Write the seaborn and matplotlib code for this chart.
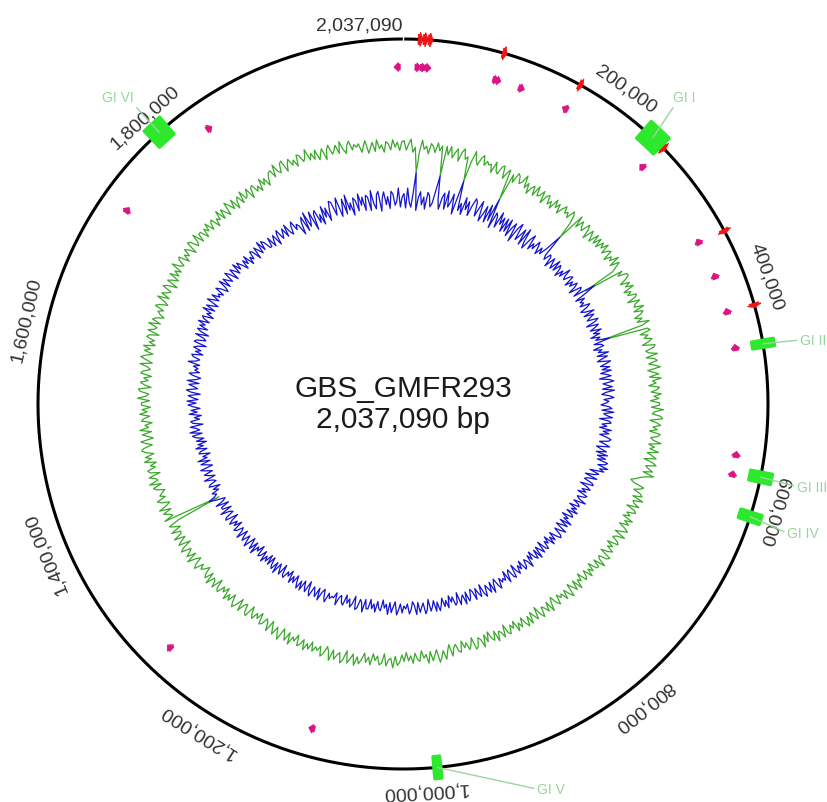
import numpy as np
import matplotlib
matplotlib.use("Agg")
import matplotlib.pyplot as plt
import seaborn as sns

# ---------------------------------------------------------------- data
genome_name = "GBS_GMFR293"
genome_length = 2037090

tick_positions = [200000, 400000, 600000, 800000, 1000000,
                  1200000, 1400000, 1600000, 1800000]
tick_labels = ["200,000", "400,000", "600,000", "800,000", "1,000,000",
               "1,200,000", "1,400,000", "1,600,000", "1,800,000"]
origin_label = "2,037,090"

# genomic islands
gi_names = ["GI I", "GI II", "GI III", "GI IV", "GI V", "GI VI"]
gi_starts = [233800, 452400, 570300, 607000, 985000, 1791100]
gi_ends = [254800, 458600, 579200, 615000, 991000, 1808900]

# rRNA operons (backbone ring)
rrna_starts = [13500, 18000, 22500, 89500, 163000, 256000, 347500, 418500]
rrna_ends = [18000, 22500, 26800, 93500, 167000, 260000, 351500, 422500]
rrna_strands = [1, 1, 1, 1, 1, 1, 1, 1]

# tRNA genes (inner feature ring)
trna_starts = [2028400, 11500, 16500, 21000, 87500, 90500, 113500, 159700,
               252800, 343500, 380000, 416000, 451600, 555000, 574000,
               1104500, 1263500, 1723600, 1835500]
trna_ends = [2034400, 17500, 22500, 27000, 92500, 95500, 119500, 165700,
             258800, 349500, 386000, 422000, 457600, 561000, 580000,
             1110500, 1269500, 1729600, 1841500]
trna_strands = [-1, 1, 1, 1, 1, 1, 1, -1, -1, -1, -1, -1, -1, -1, -1,
                1, 1, 1, 1]

# GC content (%) in 720 equal windows, starting at the origin
gc_content = [
    36.9, 35.1, 36.3, 37.3, 34.7, 35.7, 30.7, 34.9, 37.2, 35.4,
    36.1, 34.6, 36.7, 36.2, 35.0, 37.0, 35.5, 36.5, 30.5, 36.6,
    34.9, 36.7, 34.5, 35.6, 36.5, 34.1, 36.0, 36.8, 34.8, 35.4,
    30.5, 34.6, 36.9, 35.2, 34.3, 35.9, 36.6, 34.7, 35.7, 35.1,
    35.4, 33.8, 36.2, 34.5, 34.0, 35.7, 36.1, 33.6, 35.0, 35.8,
    29.5, 35.2, 33.7, 35.9, 35.5, 34.1, 34.7, 36.3, 33.9, 35.1,
    33.1, 34.6, 35.2, 33.4, 35.7, 33.8, 34.2, 35.4, 33.0, 34.9,
    35.3, 33.6, 34.5, 33.2, 35.5, 34.0, 35.1, 33.3, 34.7, 35.6,
    34.3, 34.9, 33.9, 35.8, 35.1, 33.5, 30.1, 36.1, 33.8, 35.6,
    34.6, 34.0, 36.0, 35.2, 33.3, 35.7, 34.8, 33.7, 35.9, 34.1,
    35.8, 34.0, 35.7, 34.7, 36.2, 34.2, 35.4, 35.9, 33.8, 35.3,
    34.6, 36.4, 34.1, 36.0, 34.9, 33.9, 27.3, 35.5, 34.3, 36.1,
    36.2, 35.3, 33.9, 35.7, 34.6, 36.1, 33.8, 35.1, 34.2, 35.9,
    35.5, 33.6, 36.0, 34.8, 34.4, 36.3, 34.0, 35.8, 35.2, 33.7,
    35.1, 33.9, 36.3, 34.7, 26.3, 35.5, 35.9, 33.7, 35.2, 34.3,
    35.8, 35.0, 33.6, 36.1, 35.7, 34.0, 34.5, 36.2, 33.8, 35.4,
    35.9, 34.1, 35.3, 36.3, 33.7, 34.7, 35.8, 33.9, 36.2, 34.4,
    35.1, 33.6, 35.7, 35.2, 34.0, 36.0, 34.5, 35.5, 33.8, 35.6,
    35.6, 34.0, 36.4, 34.7, 34.2, 35.9, 36.3, 33.8, 35.2, 36.0,
    34.5, 35.4, 33.9, 36.1, 35.7, 34.3, 34.9, 36.5, 34.1, 35.3,
    34.5, 36.3, 34.1, 35.2, 36.1, 33.7, 35.6, 36.4, 34.4, 35.0,
    36.0, 34.2, 36.5, 34.8, 33.9, 33.2, 32.3, 33.0, 35.3, 34.7,
    33.5, 35.0, 35.6, 33.8, 36.1, 34.2, 34.6, 35.8, 33.4, 35.3,
    35.7, 34.0, 34.9, 33.6, 35.9, 34.4, 35.5, 33.7, 35.1, 36.0,
    34.9, 33.7, 36.1, 34.5, 33.9, 35.3, 35.7, 33.5, 35.0, 34.1,
    35.6, 34.8, 33.4, 35.9, 35.5, 33.8, 34.3, 36.0, 33.6, 35.2,
    35.0, 33.2, 34.9, 33.9, 35.4, 33.4, 34.6, 35.1, 33.0, 34.5,
    33.8, 35.6, 33.3, 35.2, 34.1, 33.1, 35.7, 34.7, 33.5, 35.3,
    33.7, 34.3, 33.3, 35.2, 34.5, 32.9, 33.8, 35.5, 33.2, 35.0,
    34.0, 33.4, 35.4, 34.6, 32.7, 35.1, 34.2, 33.1, 35.3, 33.5,
    35.4, 34.5, 33.1, 34.9, 33.8, 35.3, 33.0, 34.3, 33.4, 35.1,
    34.7, 32.8, 35.2, 34.0, 33.6, 35.5, 33.2, 35.0, 34.4, 32.9,
    34.8, 33.2, 35.6, 33.9, 33.4, 35.1, 35.5, 33.0, 34.4, 35.2,
    33.7, 34.6, 33.1, 35.3, 34.9, 33.5, 34.1, 35.7, 33.3, 34.5,
    36.1, 34.3, 35.5, 36.5, 33.9, 34.9, 36.0, 34.1, 36.4, 34.6,
    35.3, 33.8, 35.9, 35.4, 34.2, 36.2, 34.7, 35.7, 34.0, 35.8,
    34.5, 36.0, 36.6, 34.8, 37.1, 35.2, 35.6, 36.8, 34.4, 36.3,
    36.7, 35.0, 35.9, 34.6, 36.9, 35.4, 36.5, 34.7, 36.1, 37.0,
    35.7, 37.5, 35.3, 36.4, 37.3, 34.9, 36.8, 37.6, 35.6, 36.2,
    37.2, 35.4, 37.7, 36.0, 35.1, 36.7, 37.4, 35.5, 36.5, 35.9,
    37.0, 35.2, 36.9, 35.9, 37.4, 35.4, 36.6, 37.1, 35.0, 36.5,
    35.8, 37.6, 35.3, 37.2, 36.1, 35.1, 37.7, 36.7, 35.5, 37.3,
    36.1, 34.9, 37.3, 35.7, 35.1, 36.5, 36.9, 34.7, 36.2, 35.3,
    36.8, 36.0, 34.6, 37.1, 36.7, 35.0, 35.5, 37.2, 34.8, 36.4,
    37.4, 36.5, 35.1, 36.9, 35.8, 37.3, 35.0, 36.3, 35.4, 37.1,
    36.7, 34.8, 37.2, 36.0, 35.6, 37.5, 35.2, 37.0, 36.4, 34.9,
    35.9, 36.5, 35.5, 37.4, 36.7, 35.1, 36.0, 37.7, 35.4, 37.2,
    36.2, 35.6, 37.6, 36.8, 34.9, 37.3, 36.4, 35.3, 37.5, 35.7,
    35.5, 37.3, 35.1, 36.2, 37.1, 34.7, 25.5, 37.4, 35.4, 36.0,
    37.0, 35.2, 37.5, 35.8, 34.9, 36.5, 37.2, 35.3, 36.3, 35.7,
    34.9, 36.4, 37.0, 35.2, 37.5, 35.6, 36.0, 37.2, 34.8, 36.7,
    37.1, 35.4, 36.3, 35.0, 37.3, 35.8, 36.9, 35.1, 36.5, 37.4,
    36.9, 35.1, 36.3, 37.3, 34.7, 35.7, 36.8, 34.9, 37.2, 35.4,
    36.1, 34.6, 36.7, 36.2, 35.0, 37.0, 35.5, 36.5, 34.8, 36.6,
    36.6, 35.0, 37.4, 35.7, 35.2, 36.9, 37.3, 34.8, 36.2, 37.0,
    35.5, 36.4, 34.9, 37.1, 36.7, 35.3, 35.9, 37.5, 35.1, 36.3,
    37.6, 36.7, 35.3, 37.1, 36.0, 37.5, 35.2, 36.5, 35.6, 37.3,
    36.9, 35.0, 37.4, 36.2, 35.8, 37.7, 35.4, 37.2, 36.6, 35.1,
    36.1, 36.7, 35.7, 37.6, 36.9, 35.3, 36.2, 37.9, 35.6, 37.4,
    36.4, 35.8, 37.8, 37.0, 35.1, 37.5, 36.6, 35.5, 37.7, 35.9,
    37.1, 35.9, 38.3, 36.7, 36.1, 37.5, 37.9, 35.7, 37.2, 36.3,
    37.8, 37.0, 35.6, 38.1, 37.7, 36.0, 36.5, 38.2, 35.8, 37.4,
    37.4, 35.6, 37.3, 36.3, 37.8, 35.8, 37.0, 37.5, 35.4, 36.9,
    36.2, 38.0, 35.7, 37.6, 36.5, 35.5, 38.1, 37.1, 35.9, 37.7,
    35.3, 36.8, 37.4, 35.6, 37.9, 36.0, 36.4, 37.6, 35.2, 37.1,
    37.5, 35.8, 36.7, 35.4, 37.7, 36.2, 37.3, 35.5, 36.9, 37.8,
    38.0, 36.4, 38.8, 37.1, 36.6, 38.3, 38.7, 36.2, 37.6, 38.4,
    36.9, 37.8, 36.3, 38.5, 38.1, 36.7, 37.3, 38.9, 36.5, 37.7,
    36.3, 38.1, 35.9, 37.0, 37.9, 35.5, 37.4, 38.2, 36.2, 36.8,
    37.8, 36.0, 38.3, 36.6, 35.7, 37.3, 38.0, 36.1, 37.1, 36.5,
    37.1, 35.3, 36.5, 37.5, 34.9, 35.9, 37.0, 35.1, 37.4, 35.6,
    36.3, 34.8, 36.9, 36.4, 35.2, 37.2, 35.7, 36.7, 35.0, 36.8,
]

# GC skew in the same 720 windows
gc_skew = [
    0.05, -0.09, 0.11, -0.03, -0.08, 0.06, 0.27, -0.11, 0.02, 0.08,
    -0.05, 0.03, -0.09, 0.08, 0.05, -0.06, -0.02, 0.11, 0.26, 0.02,
    -0.07, 0.05, 0.10, -0.06, 0.13, -0.03, 0.02, 0.11, -0.09, 0.07,
    0.26, -0.04, 0.04, -0.07, 0.11, -0.01, 0.08, -0.06, 0.05, 0.13,
    0.10, -0.04, 0.05, 0.13, -0.07, 0.00, 0.10, -0.06, 0.13, -0.03,
    0.21, -0.09, 0.08, 0.05, -0.06, 0.11, -0.01, 0.07, -0.07, 0.08,
    -0.05, 0.09, -0.08, 0.02, 0.08, -0.11, 0.05, 0.11, -0.06, 0.00,
    0.08, -0.08, 0.11, -0.03, -0.09, 0.03, 0.09, -0.06, 0.02, -0.03,
    0.07, 0.02, -0.05, 0.04, -0.02, 0.06, 0.24, 0.01, -0.03, 0.05,
    0.03, -0.07, 0.05, 0.00, -0.05, 0.07, -0.04, 0.05, 0.02, -0.06,
    0.03, -0.03, 0.09, 0.01, -0.02, 0.05, 0.07, -0.04, 0.04, -0.01,
    0.07, 0.03, -0.05, 0.08, 0.06, -0.03, 0.20, 0.09, -0.04, 0.05,
    -0.01, 0.02, -0.03, 0.07, 0.03, -0.05, -0.01, 0.08, -0.04, 0.06,
    0.01, -0.03, 0.08, 0.04, -0.06, 0.06, 0.02, -0.04, 0.07, -0.02,
    0.04, -0.06, 0.03, -0.02, 0.12, -0.05, 0.02, 0.04, -0.07, 0.01,
    -0.03, 0.07, -0.05, 0.05, -0.01, -0.06, 0.07, 0.02, -0.04, 0.05,
    -0.03, 0.06, -0.05, 0.01, 0.05, -0.07, 0.03, 0.07, -0.04, 0.00,
    0.05, -0.05, 0.07, -0.02, -0.06, 0.02, 0.06, -0.04, 0.01, -0.02,
    -0.07, 0.01, 0.04, -0.06, 0.06, -0.04, -0.01, 0.05, -0.08, 0.02,
    0.04, -0.05, 0.00, -0.07, 0.05, -0.03, 0.03, -0.06, 0.01, 0.06,
    0.04, -0.05, 0.01, 0.06, -0.07, -0.02, 0.04, -0.06, 0.06, -0.04,
    0.05, -0.03, 0.08, 0.06, -0.01, 0.10, 0.02, 0.07, -0.07, 0.03,
    -0.01, -0.10, 0.03, -0.06, -0.09, 0.00, 0.02, -0.11, -0.03, 0.01,
    -0.07, -0.02, -0.10, 0.01, -0.01, -0.08, -0.05, 0.03, -0.09, -0.03,
    -0.01, -0.11, -0.02, -0.07, 0.01, -0.10, -0.03, -0.01, -0.12, -0.04,
    -0.08, 0.02, -0.10, 0.00, -0.06, -0.11, 0.02, -0.03, -0.09, 0.00,
    0.02, -0.03, -0.10, -0.01, -0.07, 0.01, -0.11, -0.04, -0.08, 0.00,
    -0.02, -0.12, 0.00, -0.05, -0.10, 0.02, -0.09, 0.00, -0.03, -0.11,
    -0.03, -0.09, 0.03, -0.05, -0.08, -0.01, 0.01, -0.10, -0.02, -0.07,
    0.01, -0.03, -0.11, 0.02, 0.00, -0.09, -0.06, 0.03, -0.10, -0.01,
    -0.04, -0.01, -0.06, 0.04, 0.00, -0.08, -0.04, 0.05, -0.07, 0.03,
    -0.02, -0.06, 0.05, 0.01, -0.09, 0.03, -0.01, -0.07, 0.04, -0.05,
    -0.08, 0.00, 0.03, -0.07, 0.05, -0.05, -0.02, 0.04, -0.09, 0.01,
    0.03, -0.06, -0.01, -0.08, 0.04, -0.04, 0.02, -0.07, 0.00, 0.05,
    -0.04, 0.05, -0.06, 0.00, 0.04, -0.08, 0.02, 0.06, -0.05, -0.01,
    0.04, -0.06, 0.06, -0.03, -0.07, 0.01, 0.05, -0.05, 0.00, -0.03,
    0.04, -0.05, 0.01, 0.06, -0.07, -0.02, 0.04, -0.06, 0.06, -0.04,
    0.00, -0.08, 0.03, 0.01, -0.06, 0.05, -0.03, 0.02, -0.07, 0.03,
    0.03, -0.06, 0.07, -0.02, -0.05, 0.04, 0.06, -0.07, 0.01, 0.05,
    -0.03, 0.02, -0.06, 0.05, 0.03, -0.04, -0.01, 0.07, -0.05, 0.01,
    0.00, 0.03, -0.02, 0.08, 0.04, -0.04, 0.00, 0.09, -0.03, 0.07,
    0.02, -0.02, 0.09, 0.05, -0.05, 0.07, 0.03, -0.03, 0.08, -0.01,
    0.08, 0.03, -0.04, 0.05, -0.01, 0.07, -0.05, 0.02, -0.02, 0.06,
    0.04, -0.06, 0.06, 0.01, -0.04, 0.08, -0.03, 0.06, 0.03, -0.05,
    0.05, -0.05, 0.04, -0.01, 0.07, -0.04, 0.03, 0.05, -0.06, 0.02,
    -0.02, 0.08, -0.04, 0.06, 0.00, -0.05, 0.08, 0.03, -0.03, 0.06,
    0.02, -0.04, 0.08, 0.00, -0.03, 0.04, 0.06, -0.05, 0.03, -0.02,
    0.06, 0.02, -0.06, 0.07, 0.05, -0.04, -0.01, 0.08, -0.05, 0.04,
    0.04, -0.05, 0.08, -0.01, -0.04, 0.05, 0.12, 0.05, 0.02, 0.06,
    -0.02, 0.03, -0.05, 0.06, 0.04, -0.03, 0.00, 0.08, -0.04, 0.02,
    0.06, -0.03, 0.03, 0.08, -0.05, 0.00, 0.06, -0.04, 0.08, -0.02,
    0.02, -0.06, 0.05, 0.03, -0.04, 0.07, -0.01, 0.04, -0.05, 0.05,
    -0.03, 0.05, 0.08, -0.02, 0.10, 0.00, 0.03, 0.09, -0.04, 0.06,
    0.08, -0.01, 0.04, -0.03, 0.09, 0.01, 0.07, -0.02, 0.05, 0.10,
    0.02, 0.11, 0.00, 0.06, 0.10, -0.02, 0.08, 0.12, 0.01, 0.05,
    0.10, 0.00, 0.12, 0.03, -0.01, 0.07, 0.11, 0.01, 0.06, 0.03,
    0.08, 0.02, 0.14, 0.06, 0.03, 0.10, 0.12, 0.01, 0.09, 0.04,
    0.12, 0.08, 0.00, 0.13, 0.11, 0.02, 0.05, 0.14, 0.01, 0.10,
    0.14, 0.04, 0.13, 0.08, 0.16, 0.05, 0.12, 0.14, 0.03, 0.11,
    0.07, 0.17, 0.05, 0.15, 0.09, 0.04, 0.17, 0.12, 0.06, 0.15,
    0.07, 0.10, 0.05, 0.15, 0.11, 0.03, 0.07, 0.16, 0.04, 0.14,
    0.09, 0.05, 0.16, 0.12, 0.02, 0.14, 0.10, 0.04, 0.15, 0.06,
    0.13, 0.08, 0.01, 0.10, 0.04, 0.12, 0.00, 0.07, 0.03, 0.11,
    0.09, -0.01, 0.11, 0.06, 0.01, 0.13, 0.02, 0.11, 0.08, 0.00,
    0.00, 0.09, -0.02, 0.04, 0.08, -0.04, 0.06, 0.10, -0.01, 0.03,
    0.08, -0.02, 0.10, 0.01, -0.03, 0.05, 0.09, -0.01, 0.04, 0.01,
    -0.09, 0.03, 0.08, -0.08, 0.11, -0.05, 0.00, 0.09, -0.11, 0.05,
    0.08, -0.06, 0.02, -0.09, 0.09, -0.03, 0.06, -0.08, 0.03, 0.11,
    0.09, -0.05, 0.04, 0.12, -0.08, -0.01, 0.09, -0.07, 0.12, -0.04,
    0.03, -0.10, 0.07, 0.04, -0.07, 0.10, -0.02, 0.06, -0.08, 0.07,
    0.05, -0.09, 0.11, -0.03, -0.08, 0.06, 0.09, -0.11, 0.02, 0.08,
    -0.05, 0.03, -0.09, 0.08, 0.05, -0.06, -0.02, 0.11, -0.08, 0.02,
]

# ---------------------------------------------------------------- styling
sns.set_theme(style="white")
plt.rcParams["font.family"] = ["Liberation Sans", "DejaVu Sans"]

BACKBONE_R = 365
GC_R, GC_MEAN, GC_PX = 256, 35.5, 5.0      # radius units per % GC
SKEW_R, SKEW_PX = 205, 100.0                # radius units per skew unit
TRNA_R = 337

C_GC = "#3aa82a"
C_SKEW = "#1414cc"
C_RRNA = "#f01414"
C_TRNA = "#dc1482"
C_GI = "#2ee82e"
C_GI_LABEL = "#9bd49b"


def to_theta(pos):
    return 2 * np.pi * np.asarray(pos, dtype=float) / genome_length


# ---------------------------------------------------------------- figure
W, H = 828, 803
R_MAX = 430
cx, cy = 403, 398
fig = plt.figure(figsize=(W / 100, H / 100), dpi=100)
ax = fig.add_axes([(cx - R_MAX) / W, (cy - R_MAX) / H,
                   2 * R_MAX / W, 2 * R_MAX / H], projection="polar")
ax.set_theta_zero_location("N")
ax.set_theta_direction(-1)

# GC content and GC skew rings
n_win = len(gc_content)
win_pos = (np.arange(n_win) + 0.5) * genome_length / n_win
th = to_theta(np.append(win_pos, win_pos[0] + genome_length))
gc_r = GC_R + (np.array(gc_content + gc_content[:1]) - GC_MEAN) * GC_PX
skew_r = SKEW_R + np.array(gc_skew + gc_skew[:1]) * SKEW_PX
sns.lineplot(x=th, y=gc_r, ax=ax, sort=False, estimator=None,
             color=C_GC, linewidth=0.9, legend=False)
sns.lineplot(x=th, y=skew_r, ax=ax, sort=False, estimator=None,
             color=C_SKEW, linewidth=0.9, legend=False)

# backbone
ring = np.linspace(0, 2 * np.pi, 1441)
ax.plot(ring, np.full_like(ring, BACKBONE_R), color="black", lw=2.2,
        solid_capstyle="butt", zorder=3)
ax.plot([0, 0], [BACKBONE_R - 4, BACKBONE_R + 4], color="white", lw=1.0,
        zorder=4)


def draw_arrow(start, end, strand, r_mid, body, head, head_frac, color, z):
    t0, t1 = to_theta(start), to_theta(end)
    if strand < 0:
        t0, t1 = t1, t0
    tb = t0 + (t1 - t0) * (1 - head_frac)
    thetas = [t0, tb, tb, t1, tb, tb, t0]
    radii = [r_mid - body, r_mid - body, r_mid - head, r_mid,
             r_mid + head, r_mid + body, r_mid + body]
    ax.fill(thetas, radii, color=color, lw=0.6, zorder=z)


for s, e, d in zip(rrna_starts, rrna_ends, rrna_strands):
    draw_arrow(s, e, d, BACKBONE_R, 5.0, 7.0, 0.6, C_RRNA, 5)

for s, e, d in zip(trna_starts, trna_ends, trna_strands):
    draw_arrow(s, e, d, TRNA_R, 3.0, 4.5, 0.7, C_TRNA, 5)

# genomic islands
gi_s = to_theta(gi_starts)
gi_e = to_theta(gi_ends)
bars = ax.bar((gi_s + gi_e) / 2, 22, width=gi_e - gi_s,
              bottom=BACKBONE_R - 11, color=C_GI, edgecolor=C_GI,
              linewidth=2.5, zorder=6)
for b in bars:
    b.set_joinstyle("round")

# island labels with leader lines
gi_label_pos = [(41.37, 408.5), (80.84, 402.1), (101.83, 402.5),
                (108.57, 405.1), (160.81, 407.7), (315.52, 429.6)]
gi_relpos = [(0.1, 0.0), (0.0, 0.5), (0.0, 0.5), (0.0, 0.5), (0.0, 0.5),
             (1.0, 0.0)]
for name, s, e, (deg, rr), rp in zip(gi_names, gi_s, gi_e, gi_label_pos,
                                     gi_relpos):
    ax.annotate(name, xy=((s + e) / 2, BACKBONE_R),
                xytext=(np.deg2rad(deg), rr), textcoords="data",
                ha="left", va="center", fontsize=10, color=C_GI_LABEL,
                annotation_clip=False, zorder=7,
                arrowprops=dict(arrowstyle="-", color=C_GI_LABEL, lw=1.0,
                                shrinkA=0, shrinkB=0, relpos=rp))

# coordinate labels
for pos, lab in zip(tick_positions, tick_labels):
    t = to_theta(pos)
    ax.text(t, 386, lab, rotation=-np.rad2deg(t), rotation_mode="anchor",
            ha="center", va="center", fontsize=14, color="#333333")
ax.text(0, 379, origin_label, ha="right", va="center", fontsize=14,
        color="#333333")

# title in the middle
ax.annotate(genome_name, xy=(0, 0), xytext=(0, 5.8),
            textcoords="offset points", ha="center", va="baseline",
            fontsize=21.5, color="#1a1a1a")
ax.annotate(f"{genome_length:,} bp", xy=(0, 0), xytext=(0, -16.6),
            textcoords="offset points", ha="center", va="baseline",
            fontsize=21.5, color="#1a1a1a")

ax.set_ylim(0, R_MAX)
ax.set_axis_off()

fig.savefig("out.png", dpi=100, facecolor="white")
